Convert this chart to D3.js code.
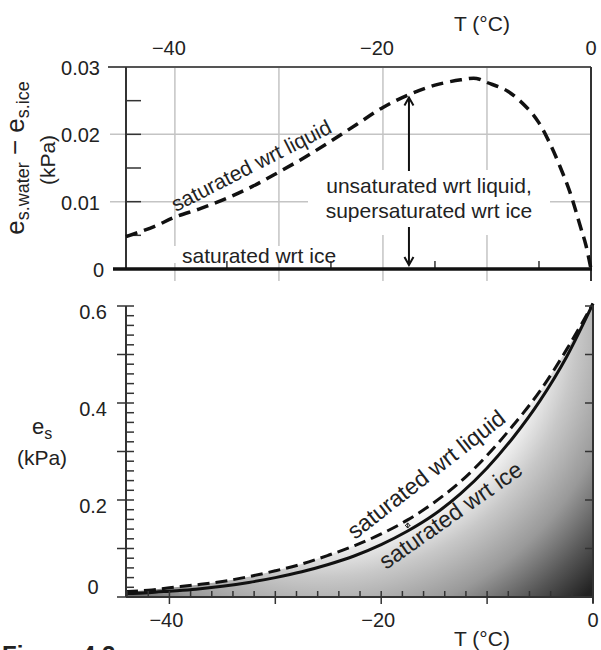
<!DOCTYPE html>
<html>
<head>
<meta charset="utf-8">
<script src="https://cdn.jsdelivr.net/npm/d3@7"></script>
<style>
body { margin: 0; background: #fff; }
text { font-family: "Liberation Sans", Arial, sans-serif; fill: #222; }
</style>
</head>
<body>
<div id="chart"></div>
<script>
// ** Data **

// top panel: e_s,water - e_s,ice (kPa) vs T (°C)
var tempTop = [-44.7, -42, -40, -37.5, -35, -32.5, -30, -27.5, -25, -22.5, -20, -17.5, -15, -12.5, -11, -10, -8, -6, -5, -4, -3, -2, -1, -0.5, 0];
var diffTop = [0.0048, 0.0063, 0.0077, 0.0090, 0.0105, 0.0123, 0.0144, 0.0166, 0.0190, 0.0215, 0.0240, 0.0259, 0.0273, 0.0281, 0.0283, 0.0277, 0.0264, 0.0237, 0.0217, 0.0188, 0.0153, 0.0113, 0.0062, 0.0036, 0.0];

// bottom panel: e_s over liquid and over ice (kPa)
var tempBot = [-44.1, -42, -40, -37.5, -35, -32.5, -30, -27.5, -25, -22.5, -20, -17.5, -15, -12.5, -10, -7.5, -5, -2.5, 0];
var esLiquid = [0.011, 0.014, 0.019, 0.025, 0.032, 0.042, 0.054, 0.068, 0.086, 0.106, 0.130, 0.159, 0.195, 0.238, 0.292, 0.355, 0.425, 0.510, 0.605];
var esIce = [0.007, 0.009, 0.012, 0.016, 0.022, 0.030, 0.040, 0.052, 0.067, 0.085, 0.108, 0.136, 0.170, 0.213, 0.266, 0.330, 0.405, 0.495, 0.605];

// tick labels
var xTickLabels = [-40, -20, 0];
var yTicksTop = [0, 0.01, 0.02, 0.03];
var yTicksBot = [0, 0.2, 0.4, 0.6];

var fmtTemp = function(d){ return d < 0 ? "\u2212" + Math.abs(d) : "" + d; };

var svg = d3.select("#chart")
	.append("svg")
	.attr("width", 601)
	.attr("height", 650);

var dark = "#333";
var grid = "#c4c4c4";

// ================= TOP PANEL =================
var xTop = d3.scaleLinear().domain([-44.7, 0]).range([126, 591]);
var yTop = d3.scaleLinear().domain([0, 0.03]).range([269, 67]);

var gTop = svg.append("g");

// gridlines
gTop.selectAll(".vgrid")
	.data([-40, -30, -20, -10])
	.enter().append("line")
	.attr("x1", function(d){ return xTop(d); })
	.attr("x2", function(d){ return xTop(d); })
	.attr("y1", yTop(0.03))
	.attr("y2", yTop(0) + 12)
	.attr("stroke", grid)
	.attr("stroke-width", 1.5);

gTop.selectAll(".hgrid")
	.data([0.01, 0.02])
	.enter().append("line")
	.attr("x1", 110)
	.attr("x2", xTop(0))
	.attr("y1", function(d){ return yTop(d); })
	.attr("y2", function(d){ return yTop(d); })
	.attr("stroke", grid)
	.attr("stroke-width", 1.5);

// white boxes behind labels
gTop.append("rect")
	.attr("x", 308).attr("y", 170)
	.attr("width", 242).attr("height", 65)
	.attr("fill", "#fff");
gTop.append("rect")
	.attr("x", 170).attr("y", 246)
	.attr("width", 174).attr("height", 17)
	.attr("fill", "#fff");

// frame
gTop.append("line")
	.attr("x1", 108).attr("x2", xTop(0))
	.attr("y1", yTop(0.03)).attr("y2", yTop(0.03))
	.attr("stroke", "#555").attr("stroke-width", 2);
gTop.append("line")
	.attr("x1", xTop.range()[0]).attr("x2", xTop.range()[0])
	.attr("y1", yTop(0.03)).attr("y2", yTop(0))
	.attr("stroke", dark).attr("stroke-width", 2);
gTop.append("line")
	.attr("x1", xTop(0)).attr("x2", xTop(0))
	.attr("y1", yTop(0.03)).attr("y2", yTop(0) + 12)
	.attr("stroke", dark).attr("stroke-width", 2);

// left ticks (inside)
gTop.selectAll(".ltick")
	.data([0.005, 0.01, 0.015, 0.02, 0.025])
	.enter().append("line")
	.attr("x1", 126).attr("x2", 141)
	.attr("y1", function(d){ return yTop(d); })
	.attr("y2", function(d){ return yTop(d); })
	.attr("stroke", dark).attr("stroke-width", 1.5);

// bottom minor ticks
gTop.selectAll(".btick")
	.data([-35, -25, -15, -5])
	.enter().append("line")
	.attr("x1", function(d){ return xTop(d); })
	.attr("x2", function(d){ return xTop(d); })
	.attr("y1", yTop(0) - 8).attr("y2", yTop(0))
	.attr("stroke", dark).attr("stroke-width", 1.5);

// saturated wrt ice (zero line)
gTop.append("line")
	.attr("x1", 113).attr("x2", xTop(0) + 1)
	.attr("y1", yTop(0)).attr("y2", yTop(0))
	.attr("stroke", "#111").attr("stroke-width", 3.5);

// dashed difference curve
var lineTop = d3.line()
	.x(function(d, i){ return xTop(tempTop[i]); })
	.y(function(d){ return yTop(d); })
	.curve(d3.curveCatmullRom);
gTop.append("path")
	.attr("d", lineTop(diffTop))
	.attr("fill", "none")
	.attr("stroke", "#111")
	.attr("stroke-width", 3.5)
	.attr("stroke-dasharray", "12,7");

// arrows
var arrowX = xTop(tempTop[11]);
var arrowTip = yTop(diffTop[11]) + 3;
gTop.append("line")
	.attr("x1", arrowX).attr("x2", arrowX)
	.attr("y1", 171).attr("y2", arrowTip)
	.attr("stroke", "#111").attr("stroke-width", 2);
gTop.append("path")
	.attr("d", "M" + (arrowX - 4.5) + "," + (arrowTip + 8) + "L" + arrowX + "," + arrowTip + "L" + (arrowX + 4.5) + "," + (arrowTip + 8))
	.attr("fill", "none").attr("stroke", "#111").attr("stroke-width", 2);
var arrowBot = yTop(0) - 4;
gTop.append("line")
	.attr("x1", arrowX).attr("x2", arrowX)
	.attr("y1", 227).attr("y2", arrowBot)
	.attr("stroke", "#111").attr("stroke-width", 2);
gTop.append("path")
	.attr("d", "M" + (arrowX - 4.5) + "," + (arrowBot - 8) + "L" + arrowX + "," + arrowBot + "L" + (arrowX + 4.5) + "," + (arrowBot - 8))
	.attr("fill", "none").attr("stroke", "#111").attr("stroke-width", 2);

// labels
gTop.append("text")
	.attr("x", 429).attr("y", 193)
	.attr("text-anchor", "middle")
	.attr("font-size", 21)
	.text("unsaturated wrt liquid,");
gTop.append("text")
	.attr("x", 429).attr("y", 218)
	.attr("text-anchor", "middle")
	.attr("font-size", 21)
	.text("supersaturated wrt ice");
gTop.append("text")
	.attr("x", 182).attr("y", 263)
	.attr("font-size", 21)
	.text("saturated wrt ice");
gTop.append("text")
	.attr("transform", "translate(176,212) rotate(-27)")
	.attr("font-size", 21)
	.text("saturated wrt liquid");

// axis tick labels
gTop.selectAll(".xlab")
	.data(xTickLabels)
	.enter().append("text")
	.attr("x", function(d){ return xTop(d) + (d < 0 ? -6 : 0); })
	.attr("y", 55)
	.attr("text-anchor", "middle")
	.attr("font-size", 20)
	.text(fmtTemp);
gTop.selectAll(".ylab")
	.data(yTicksTop)
	.enter().append("text")
	.attr("x", function(d){ return d === 0 ? 104 : 100; })
	.attr("y", function(d){ return yTop(d) + 8; })
	.attr("text-anchor", "end")
	.attr("font-size", 20)
	.text(function(d){ return d === 0 ? "0" : d3.format(".2f")(d); });

gTop.append("text")
	.attr("x", 482).attr("y", 31)
	.attr("text-anchor", "middle")
	.attr("font-size", 21)
	.text("T (\u00B0C)");

var yLabTop = gTop.append("text")
	.attr("transform", "translate(24,158) rotate(-90)")
	.attr("text-anchor", "middle")
	.attr("font-size", 26);
yLabTop.append("tspan").text("e");
yLabTop.append("tspan").attr("dy", 5).attr("font-size", 18).text("s.water");
yLabTop.append("tspan").attr("dy", -5).text(" \u2212 e");
yLabTop.append("tspan").attr("dy", 5).attr("font-size", 18).text("s.ice");
gTop.append("text")
	.attr("transform", "translate(55,160) rotate(-90)")
	.attr("text-anchor", "middle")
	.attr("font-size", 21)
	.text("(kPa)");

// ================= BOTTOM PANEL =================
var xBot = d3.scaleLinear().domain([-44.1, 0]).range([126, 593]);
var yBot = d3.scaleLinear().domain([0, 0.6]).range([597, 306]);

var gBot = svg.append("g");

// grey shading: light near the curves, darkening towards the lower right
var defs = svg.append("defs");
var grad = defs.append("radialGradient")
	.attr("id", "shade")
	.attr("gradientUnits", "userSpaceOnUse")
	.attr("cx", 320).attr("cy", 320).attr("r", 390);
grad.append("stop").attr("offset", 0.56).attr("stop-color", "#fafafa");
grad.append("stop").attr("offset", 0.66).attr("stop-color", "#c8c8c8");
grad.append("stop").attr("offset", 0.78).attr("stop-color", "#999");
grad.append("stop").attr("offset", 0.89).attr("stop-color", "#555");
grad.append("stop").attr("offset", 0.98).attr("stop-color", "#222");

var area = d3.area()
	.x(function(d, i){ return xBot(tempBot[i]); })
	.y0(yBot(0))
	.y1(function(d){ return yBot(d); })
	.curve(d3.curveMonotoneX);
gBot.append("path")
	.attr("d", area(esLiquid))
	.attr("fill", "url(#shade)");

var lineBot = d3.line()
	.x(function(d, i){ return xBot(tempBot[i]); })
	.y(function(d){ return yBot(d); })
	.curve(d3.curveMonotoneX);
gBot.append("path")
	.attr("d", lineBot(esLiquid))
	.attr("fill", "none")
	.attr("stroke", "#111")
	.attr("stroke-width", 3)
	.attr("stroke-dasharray", "12,6");
gBot.append("path")
	.attr("d", lineBot(esIce))
	.attr("fill", "none")
	.attr("stroke", "#111")
	.attr("stroke-width", 3);

// frame
gBot.append("line")
	.attr("x1", 126).attr("x2", 126)
	.attr("y1", yBot(0.6)).attr("y2", yBot(0))
	.attr("stroke", dark).attr("stroke-width", 2);
gBot.append("line")
	.attr("x1", 126).attr("x2", xBot(0))
	.attr("y1", yBot(0)).attr("y2", yBot(0))
	.attr("stroke", dark).attr("stroke-width", 2);
gBot.append("line")
	.attr("x1", xBot(0)).attr("x2", xBot(0))
	.attr("y1", yBot(0.6)).attr("y2", yBot(0) + 6)
	.attr("stroke", dark).attr("stroke-width", 2);

// left ticks: minor every 0.02, major every 0.1
var yMinor = d3.range(0, 31).map(function(i){ return i * 0.02; });
gBot.selectAll(".lminor")
	.data(yMinor)
	.enter().append("line")
	.attr("x1", function(d, i){ return i % 5 === 0 ? 117 : 126; })
	.attr("x2", 134)
	.attr("y1", function(d){ return yBot(d); })
	.attr("y2", function(d){ return yBot(d); })
	.attr("stroke", dark).attr("stroke-width", 1.5);

// right ticks
gBot.selectAll(".rtick")
	.data(d3.range(0, 7).map(function(i){ return i * 0.1; }))
	.enter().append("line")
	.attr("x1", xBot(0) - 8).attr("x2", xBot(0))
	.attr("y1", function(d){ return yBot(d); })
	.attr("y2", function(d){ return yBot(d); })
	.attr("stroke", dark).attr("stroke-width", 1.5);

// bottom ticks: minor every 2 deg, major every 10
gBot.selectAll(".bminor")
	.data(d3.range(-44, 1, 2))
	.enter().append("line")
	.attr("x1", function(d){ return xBot(d); })
	.attr("x2", function(d){ return xBot(d); })
	.attr("y1", yBot(0) - 6)
	.attr("y2", function(d){ return d % 10 === 0 ? yBot(0) + 7 : yBot(0); })
	.attr("stroke", dark).attr("stroke-width", 1.5);

// small double arrow between the curves
var dX = xBot(tempBot[11]);
var dY1 = yBot(esLiquid[11]) + 3;
var dY2 = yBot(esIce[11]) - 3;
gBot.append("path")
	.attr("d", "M" + dX + "," + dY1 + "L" + dX + "," + dY2 +
		"M" + (dX - 2.5) + "," + (dY1 + 3) + "L" + dX + "," + dY1 + "L" + (dX + 2.5) + "," + (dY1 + 3) +
		"M" + (dX - 2.5) + "," + (dY2 - 3) + "L" + dX + "," + dY2 + "L" + (dX + 2.5) + "," + (dY2 - 3))
	.attr("fill", "none").attr("stroke", "#222").attr("stroke-width", 1);

// curve labels
gBot.append("text")
	.attr("transform", "translate(355,540) rotate(-38)")
	.attr("font-size", 23)
	.text("saturated wrt liquid");
gBot.append("text")
	.attr("transform", "translate(386,570) rotate(-35)")
	.attr("font-size", 23)
	.text("saturated wrt ice");

// tick labels
gBot.selectAll(".xlab")
	.data(xTickLabels)
	.enter().append("text")
	.attr("x", function(d){ return xBot(d) + (d < 0 ? -3 : 0); })
	.attr("y", 627)
	.attr("text-anchor", "middle")
	.attr("font-size", 20)
	.text(fmtTemp);
gBot.selectAll(".ylab")
	.data(yTicksBot)
	.enter().append("text")
	.attr("x", function(d){ return d === 0 ? 93 : 107; })
	.attr("y", function(d){ return d === 0 ? yBot(d) - 3 : yBot(d) + 13; })
	.attr("text-anchor", function(d){ return d === 0 ? "middle" : "end"; })
	.attr("font-size", 20)
	.text(function(d){ return d === 0 ? "0" : d3.format(".1f")(d); });

gBot.append("text")
	.attr("x", 482).attr("y", 646)
	.attr("text-anchor", "middle")
	.attr("font-size", 21)
	.text("T (\u00B0C)");

var yLabBot = gBot.append("text")
	.attr("x", 42).attr("y", 434)
	.attr("text-anchor", "middle")
	.attr("font-size", 22);
yLabBot.append("tspan").text("e");
yLabBot.append("tspan").attr("dy", 5).attr("font-size", 16).text("s");
gBot.append("text")
	.attr("x", 42).attr("y", 465)
	.attr("text-anchor", "middle")
	.attr("font-size", 21)
	.text("(kPa)");

// figure caption (cut off at the bottom edge, as in the original)
svg.append("text")
	.attr("x", 2).attr("y", 663)
	.attr("font-size", 24)
	.attr("font-weight", "bold")
	.text("Figure 4.2");
</script>
</body>
</html>
